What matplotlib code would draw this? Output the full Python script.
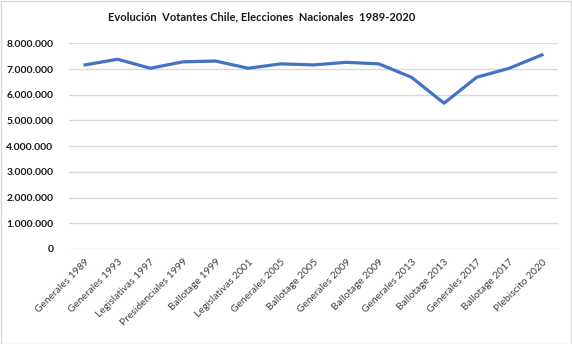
import matplotlib
matplotlib.use("Agg")
import matplotlib.ticker as mtick
from matplotlib import pyplot as plt
from matplotlib.patches import Rectangle

elecciones = [
    "Generales 1989", "Generales 1993", "Legislativas 1997", "Presidenciales 1999",
    "Ballotage 1999", "Legislativas 2001", "Generales 2005", "Ballotage 2005",
    "Generales 2009", "Ballotage 2009", "Generales 2013", "Ballotage 2013",
    "Generales 2017", "Ballotage 2017", "Plebiscito 2020",
]
votantes = [
    7160000, 7380000, 7030000, 7280000, 7310000, 7030000, 7200000, 7160000,
    7260000, 7200000, 6680000, 5670000, 6680000, 7030000, 7550000,
]
y_ticks = [0, 1000000, 2000000, 3000000, 4000000, 5000000, 6000000, 7000000, 8000000]

plt.rcParams['font.family'] = ['Lato', 'DejaVu Sans']

W, H = 572, 344
fig = plt.figure(figsize=(W / 100, H / 100), dpi=100)
ax = fig.add_axes([68.7 / W, 1 - 249 / H, (558.3 - 68.7) / W, (249 - 43.3) / H])

x = list(range(len(elecciones)))
ax.plot(x, votantes, color='#4472C4', lw=2.3, solid_joinstyle='round', zorder=3)

ax.set_xlim(-0.5, len(elecciones) - 0.5)
ax.set_ylim(0, 8000000)
ax.set_yticks(y_ticks)
ax.yaxis.set_major_formatter(mtick.FuncFormatter(lambda v, _: f"{v:,.0f}".replace(",", ".")))
ax.grid(axis='y', color='#D9D9D9', lw=1, zorder=0)
ax.set_axisbelow(True)
for s in ax.spines.values():
    s.set_visible(False)
ax.tick_params(axis='both', length=0)
ax.tick_params(axis='y', pad=11, labelsize=7.5, labelcolor='#1a1a1a')
for lbl in ax.get_yticklabels():
    lbl.set_fontweight('bold')

ax.set_xticks(x)
ax.set_xticklabels(elecciones, rotation=45, ha='right', rotation_mode='anchor',
                   fontsize=7.4, color='#404040')
ax.tick_params(axis='x', pad=6)

fig.text(262 / W, 1 - 17 / H, "Evolución  Votantes Chile, Elecciones  Nacionales  1989-2020",
         ha='center', va='center', fontsize=8.0, fontweight='bold', color='#1a1a1a')

fig.patches.append(Rectangle((0.5 / W, 0.5 / H), (W - 1.5) / W, (H - 1.5) / H,
                             transform=fig.transFigure, fill=False, ec='#D9D9D9', lw=1))

fig.savefig("out.png", dpi=100)
